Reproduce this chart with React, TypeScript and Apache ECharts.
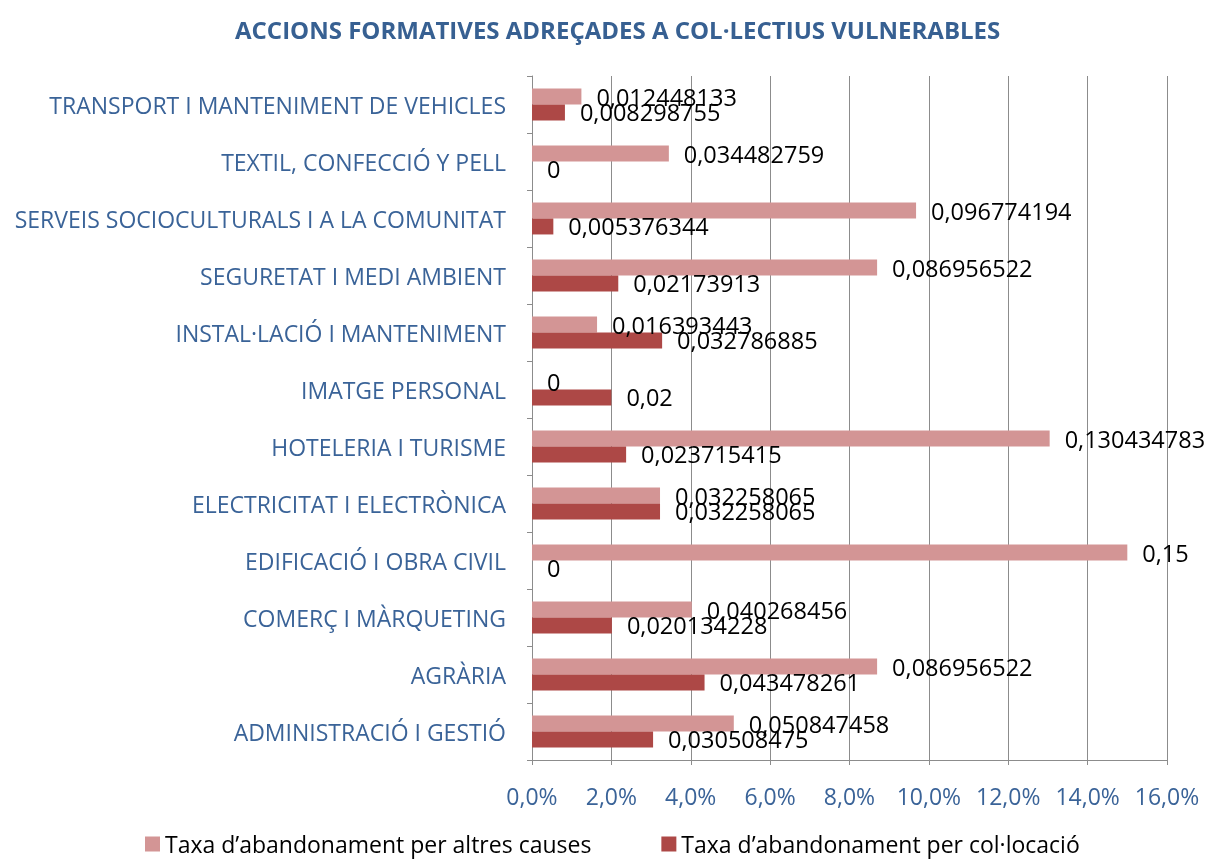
import React, { useEffect, useRef } from "react";
import * as echarts from "echarts";

const categories = [
  "ADMINISTRACIÓ I GESTIÓ",
  "AGRÀRIA",
  "COMERÇ I MÀRQUETING",
  "EDIFICACIÓ I OBRA CIVIL",
  "ELECTRICITAT I ELECTRÒNICA",
  "HOTELERIA I TURISME",
  "IMATGE PERSONAL",
  "INSTAL·LACIÓ I MANTENIMENT",
  "SEGURETAT I MEDI AMBIENT",
  "SERVEIS SOCIOCULTURALS I A LA COMUNITAT",
  "TEXTIL, CONFECCIÓ Y PELL",
  "TRANSPORT I MANTENIMENT DE VEHICLES",
];

const altresCauses = [
  0.050847458, 0.086956522, 0.040268456, 0.15, 0.032258065, 0.130434783, 0,
  0.016393443, 0.086956522, 0.096774194, 0.034482759, 0.012448133,
];

const colocacio = [
  0.030508475, 0.043478261, 0.020134228, 0, 0.032258065, 0.023715415, 0.02,
  0.032786885, 0.02173913, 0.005376344, 0, 0.008298755,
];

const seriesNames = [
  "Taxa d’abandonament per altres causes",
  "Taxa d’abandonament per col·locació",
];

const FONT = "'Open Sans', 'Noto Sans', sans-serif";
const BLUE = "#3A6398";

export default function App() {
  const ref = useRef<HTMLDivElement>(null);
  useEffect(() => {
    if (!ref.current) return;
    const chart = echarts.init(ref.current, null, { renderer: "svg" });
    const label = {
      show: true,
      position: "right" as const,
      distance: 15,
      color: "#000",
      fontSize: 23.5,
      fontFamily: FONT,
      formatter: (p: any) => String(p.value).replace(".", ","),
    };
    chart.setOption({
      animation: false,
      textStyle: { fontFamily: FONT },
      title: {
        text: "ACCIONS FORMATIVES ADREÇADES A COL·LECTIUS VULNERABLES",
        left: 230,
        top: 12,
        textStyle: { color: "#376092", fontSize: 24, fontWeight: "bold", fontFamily: FONT },
      },
      legend: {
        top: 832,
        left: 145,
        padding: 0,
        itemGap: 70,
        itemWidth: 15,
        itemHeight: 15,
        icon: "rect",
        data: seriesNames,
        textStyle: { color: "#000", fontSize: 23, lineHeight: 24, fontFamily: FONT },
      },
      grid: { left: 532, right: 40, top: 76, bottom: 101, containLabel: false },
      xAxis: {
        type: "value",
        min: 0,
        max: 0.16,
        interval: 0.02,
        axisLine: { show: true, lineStyle: { color: "#8c8c8c" } },
        axisTick: { show: true, length: 5, lineStyle: { color: "#8c8c8c" } },
        splitLine: { show: true, lineStyle: { color: "#8c8c8c", width: 1 } },
        axisLabel: {
          color: BLUE,
          fontSize: 23,
          margin: 24,
          fontFamily: FONT,
          formatter: (v: number) => (v * 100).toFixed(1).replace(".", ",") + "%",
        },
      },
      yAxis: {
        type: "category",
        data: categories,
        axisLine: { show: true, lineStyle: { color: "#8c8c8c" } },
        axisTick: { show: true, length: 5, lineStyle: { color: "#8c8c8c" } },
        axisLabel: { color: BLUE, fontSize: 23, margin: 26, fontFamily: FONT },
      },
      series: [
        {
          name: seriesNames[0],
          type: "bar",
          data: altresCauses,
          itemStyle: { color: "#D39595" },
          barGap: "0%",
          barCategoryGap: "44%",
          label,
        },
        {
          name: seriesNames[1],
          type: "bar",
          data: colocacio,
          itemStyle: { color: "#AD4846" },
          barGap: "0%",
          barCategoryGap: "44%",
          label,
        },
      ],
    });
    return () => chart.dispose();
  }, []);
  return (
    <div
      ref={ref}
      style={{ position: "fixed", left: 0, top: 0, width: 1207, height: 861 }}
    />
  );
}
